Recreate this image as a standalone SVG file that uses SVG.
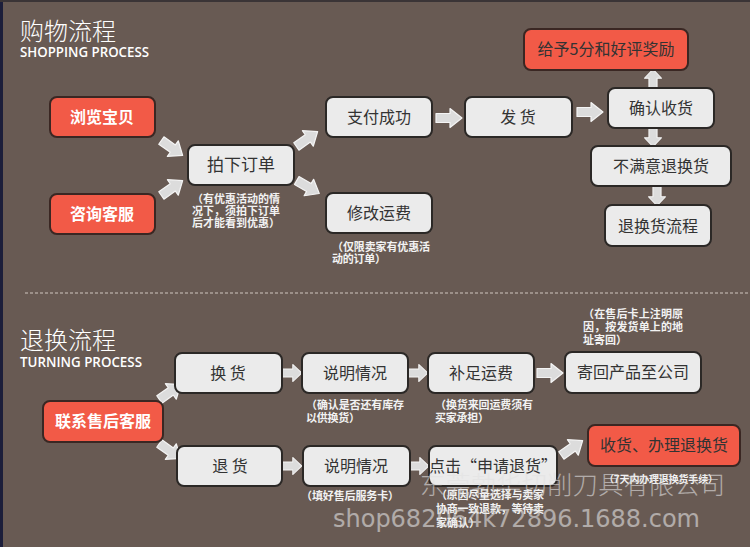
<svg xmlns="http://www.w3.org/2000/svg" width="750" height="547" viewBox="0 0 750 547">
<style>
.bg{fill:#685a53}
.gbox{fill:#ebebeb;stroke:#2b2826;stroke-width:2}
.rbox{fill:#f25a47;stroke:#3a2723;stroke-width:2}
.gt{font-family:"Noto Sans CJK SC","Noto Sans",sans-serif;font-size:16px;fill:#333;text-anchor:middle}
.rt{font-family:"Noto Sans CJK SC","Noto Sans",sans-serif;font-size:16px;fill:#fff;font-weight:bold;text-anchor:middle}
.note{font-family:"Noto Sans CJK SC","Noto Sans",sans-serif;font-size:11px;fill:#f2f2f2;font-weight:bold}
.h1{font-family:"Noto Sans CJK SC","Noto Sans",sans-serif;font-size:24px;fill:#fff;font-weight:300}
.h2{font-family:"Open Sans","Liberation Sans",sans-serif;font-size:13.5px;fill:#fff;font-weight:600}
.arr{fill:#dcdcdc;stroke:#f4f4f4;stroke-width:1.2;stroke-linejoin:round}
.wm{fill:#e2e2e2;opacity:0.6}
</style>
<defs>
<path id="ar" class="arr" d="M-13,-4.5 L1,-4.5 L1,-9.5 L13,0 L1,9.5 L1,4.5 L-13,4.5 Z"/>
</defs>
<rect class="bg" x="0" y="0" width="750" height="547"/>
<rect x="0" y="0" width="3" height="547" fill="#1c1e3a"/>
<rect x="0" y="0" width="750" height="2" fill="#3a3436"/>
<line x1="25" y1="293" x2="750" y2="293" stroke="#cfc6c0" stroke-width="1.2" stroke-dasharray="3,2"/>

<g id="titles">
<text class="h1" x="20" y="40">购物流程</text>
<text class="h2" x="20" y="57" textLength="129" lengthAdjust="spacingAndGlyphs">SHOPPING PROCESS</text>
<text class="h1" x="20" y="349">退换流程</text>
<text class="h2" x="20" y="367" textLength="122" lengthAdjust="spacingAndGlyphs">TURNING PROCESS</text>
</g>

<g id="connectors">
<use href="#ar" transform="translate(172,148) rotate(35)"/>
<use href="#ar" transform="translate(172,188) rotate(-35)"/>
<use href="#ar" transform="translate(307,139) rotate(-35)"/>
<use href="#ar" transform="translate(308,187) rotate(30)"/>
<use href="#ar" transform="translate(449,118)"/>
<use href="#ar" transform="translate(590,112)"/>
<use href="#ar" transform="translate(653,79) rotate(-90) scale(0.75,0.9)"/>
<use href="#ar" transform="translate(653,137) rotate(90) scale(0.75,0.9)"/>
<use href="#ar" transform="translate(657,196) rotate(90) scale(0.75,0.9)"/>
<use href="#ar" transform="translate(170,392) rotate(-35)"/>
<use href="#ar" transform="translate(170,451) rotate(35)"/>
<use href="#ar" transform="translate(292,373) scale(0.75,0.9)"/>
<use href="#ar" transform="translate(418,373) scale(0.75,0.9)"/>
<use href="#ar" transform="translate(550,373)"/>
<use href="#ar" transform="translate(292,466) scale(0.75,0.9)"/>
<use href="#ar" transform="translate(419,466) scale(0.75,0.9)"/>
<use href="#ar" transform="translate(572,448) rotate(-35)"/>
</g>

<g id="n-browse"><rect class="rbox" x="50" y="97" width="105" height="40" rx="7"/><text class="rt" x="102" y="123">浏览宝贝</text></g>
<g id="n-consult"><rect class="rbox" x="50" y="194" width="105" height="40" rx="7"/><text class="rt" x="102" y="220">咨询客服</text></g>
<g id="n-order"><rect class="gbox" x="188" y="145" width="106" height="40" rx="7"/><text class="gt" x="241" y="171" style="font-size:17px">拍下订单</text>
<text class="note" x="192" y="203" textLength="88">（有优惠活动的情</text><text class="note" x="192" y="215" textLength="88">况下，须拍下订单</text><text class="note" x="192" y="227" textLength="88">后才能看到优惠）</text></g>
<g id="n-pay"><rect class="gbox" x="326" y="97" width="106" height="40" rx="7"/><text class="gt" x="379" y="123">支付成功</text></g>
<g id="n-fee"><rect class="gbox" x="326" y="193" width="106" height="40" rx="7"/><text class="gt" x="379" y="219">修改运费</text>
<text class="note" x="332" y="251" textLength="98">（仅限卖家有优惠活</text><text class="note" x="332" y="263" textLength="54">动的订单）</text></g>
<g id="n-ship"><rect class="gbox" x="465" y="97" width="107" height="40" rx="7"/><text class="gt" x="518" y="123">发 货</text></g>
<g id="n-reward"><rect class="rbox" x="524" y="29" width="164" height="41" rx="7"/><text class="gt" x="606" y="55">给予5分和好评奖励</text></g>
<g id="n-confirm"><rect class="gbox" x="608" y="88" width="106" height="40" rx="7"/><text class="gt" x="661" y="114">确认收货</text></g>
<g id="n-unsat"><rect class="gbox" x="591" y="146" width="140" height="40" rx="7"/><text class="gt" x="661" y="172">不满意退换货</text></g>
<g id="n-returnflow"><rect class="gbox" x="605" y="205" width="106" height="41" rx="7"/><text class="gt" x="658" y="232">退换货流程</text></g>

<g id="n-contact"><rect class="rbox" x="43" y="401" width="120" height="41" rx="7"/><text class="rt" x="103" y="427">联系售后客服</text></g>
<g id="n-exchange"><rect class="gbox" x="175" y="353" width="107" height="40" rx="7"/><text class="gt" x="228" y="379">换 货</text></g>
<g id="n-explain1"><rect class="gbox" x="302" y="353" width="106" height="40" rx="7"/><text class="gt" x="355" y="379">说明情况</text>
<text class="note" x="306" y="409" textLength="98">（确认是否还有库存</text><text class="note" x="306" y="422" textLength="54">以供换货）</text></g>
<g id="n-addfee"><rect class="gbox" x="428" y="353" width="106" height="40" rx="7"/><text class="gt" x="481" y="379">补足运费</text>
<text class="note" x="435" y="409" textLength="98">（换货来回运费须有</text><text class="note" x="435" y="422" textLength="54">买家承担）</text></g>
<g id="n-sendback"><rect class="gbox" x="565" y="352" width="136" height="41" rx="7"/><text class="gt" x="633" y="378">寄回产品至公司</text>
<text class="note" x="583" y="318" textLength="100">（在售后卡上注明原</text><text class="note" x="583" y="331" textLength="100">因，按发货单上的地</text><text class="note" x="583" y="344" textLength="44">址寄回）</text></g>
<g id="n-return"><rect class="gbox" x="177" y="446" width="105" height="40" rx="7"/><text class="gt" x="230" y="472">退 货</text></g>
<g id="n-explain2"><rect class="gbox" x="303" y="446" width="107" height="40" rx="7"/><text class="gt" x="356" y="472">说明情况</text>
<text class="note" x="301" y="500" textLength="98">（填好售后服务卡）</text></g>
<g id="n-apply"><rect class="gbox" x="429" y="446" width="128" height="40" rx="7"/><text class="gt" x="493" y="472">点击“申请退货”</text>
<text class="note" x="436" y="499" textLength="108">（原因尽量选择与卖家</text><text class="note" x="436" y="513" textLength="108">协商一致退款，等待卖</text><text class="note" x="436" y="527" textLength="44">家确认）</text></g>
<g id="n-receive"><rect class="rbox" x="588" y="425" width="152" height="41" rx="7"/><text class="gt" x="664" y="451">收货、办理退换货</text>
<text class="note" x="604" y="483" style="font-size:10px" textLength="114">（7天内办理退换货手续）</text></g>

<g id="watermark">
<text class="wm" x="420" y="494" font-family="Noto Sans CJK SC, sans-serif" font-size="25" font-weight="300" textLength="305">东莞勃华切削刀具有限公司</text>
<text class="wm" x="333" y="527" font-family="DejaVu Sans, sans-serif" font-size="24" textLength="367">shop682064k72896.1688.com</text>
</g>
</svg>
